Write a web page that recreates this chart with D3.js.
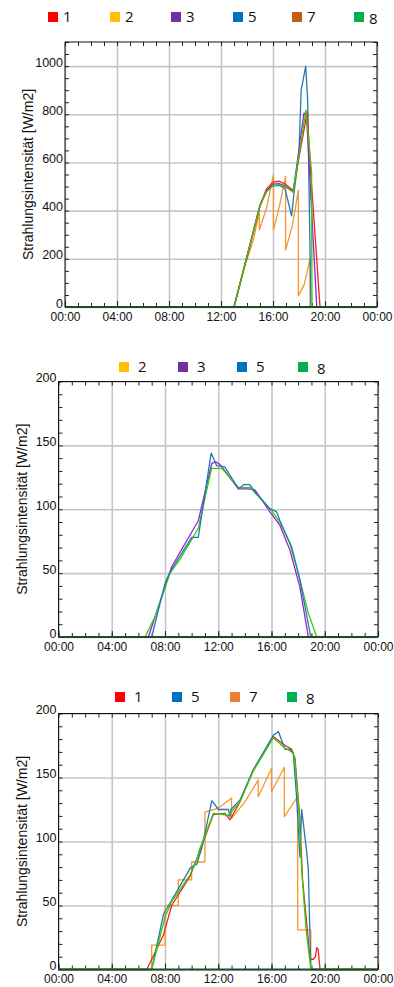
<!DOCTYPE html>
<html>
<head>
<meta charset="utf-8">
<script src="https://cdn.jsdelivr.net/npm/d3@7"></script>
<style>
  body { margin: 0; background: #fff; }
  svg { display: block; }
</style>
</head>
<body>
<svg id="chart" width="394" height="987"></svg>
<script>

// tick labels (shared by all three charts)
const xTickLabels = ["00:00", "04:00", "08:00", "12:00", "16:00", "20:00", "00:00"];
const yLabelText = "Strahlungsintensität [W/m2]";

// chart 1 : time, W/m2
const p1Series1 = [["00:00",0],["13:00",0],["14:00",205],["15:00",420],["15:30",490],["16:00",518],["16:30",522],["17:00",508],["17:33",484],["18:00",620],["18:38",810],["18:54",560],["19:37",0],["24:00",0]];
const p1Series2 = [["00:00",0],["24:00",0]];
const p1Series3 = [["00:00",0],["13:00",0],["14:00",208],["15:00",420],["15:30",482],["16:00",510],["16:30",512],["17:00",500],["17:33",478],["18:23",805],["18:35",790],["19:22",0],["24:00",0]];
const p1Series5 = [["00:00",0],["13:00",0],["14:00",212],["15:00",425],["15:30",480],["16:00",503],["16:30",505],["16:55",492],["17:26",378],["17:36",465],["18:00",640],["18:10",900],["18:31",1000],["18:40",860],["18:55",0],["24:00",0]];
const p1Series7 = [["00:00",0],["13:00",0],["13:58",205],["13:58",192],["14:30",280],["14:57",395],["14:57",319],["15:30",410],["16:02",548],["16:02",319],["16:30",420],["16:58",543],["16:58",236],["17:30",340],["17:57",485],["17:57",46],["18:25",95],["18:51",202],["18:51",0],["24:00",0]];
const p1Series8 = [["00:00",0],["13:00",0],["14:00",210],["15:00",420],["15:30",478],["16:00",505],["16:30",508],["17:00",497],["17:33",476],["18:32",817],["18:58",560],["19:00",0],["24:00",0]];

// chart 2
const p2Series2 = [["00:00",0],["24:00",0]];
const p2Series3 = [["00:00",0],["06:45",0],["08:30",55],["10:30",91],["11:31",136],["11:50",137],["12:08",135],["13:31",116],["14:16",116],["14:46",115],["15:53",98],["16:38",87.5],["17:23",68],["18:08",39],["18:46",0],["24:00",0]];
const p2Series5 = [["00:00",0],["07:00",0],["08:00",42],["08:23",51],["10:00",78],["10:30",78],["11:28",144],["11:53",134],["12:08",134],["12:30",133],["13:31",116],["13:58",119.5],["14:23",119],["14:46",113.5],["15:53",100.5],["16:23",98],["16:38",91],["17:31",70.5],["18:08",44.5],["18:57",0],["24:00",0]];
const p2Series8 = [["00:00",0],["06:30",0],["07:15",16],["08:23",50],["09:08",61],["10:30",85],["11:30",132],["12:16",132],["13:31",117],["14:23",117],["15:53",100.5],["16:38",90],["17:23",73],["18:01",50],["18:46",18.5],["19:24",0],["24:00",0]];

// chart 3
const p3Series1 = [["00:00",0],["06:38",0],["07:53",27],["08:30",50],["09:53",73],["10:38",93],["11:38",121],["12:30",122],["12:53",117],["13:38",131],["14:38",156],["16:08",182],["16:53",176],["17:31",172],["17:46",165],["18:08",117],["18:20",70],["18:54",8],["19:09",8],["19:18",10],["19:24",17],["19:30",16],["19:39",0],["24:00",0]];
const p3Series5 = [["00:00",0],["07:00",0],["07:53",43],["09:53",79],["10:16",82],["10:23",82],["10:46",95],["11:31",132],["12:01",125],["12:46",125],["12:53",119.5],["12:57",125],["13:38",132.5],["14:38",156],["16:08",183],["16:31",186],["17:01",172],["17:23",172],["17:38",169],["17:53",135],["18:08",88],["18:16",125],["18:38",93],["18:46",78],["18:57",0],["24:00",0]];
const p3Series7 = [["00:00",0],["07:00",0],["07:00",19],["08:00",19],["08:00",50],["09:00",50],["09:00",70],["10:00",70],["10:00",84],["11:00",84],["11:00",123],["12:00",126],["13:00",134],["13:00",118],["14:00",131],["15:00",148],["15:00",135],["16:00",157],["16:00",139],["16:58",158],["16:58",119.5],["17:50",133],["17:58",133],["17:58",31],["18:57",31],["18:57",0],["24:00",0]];
const p3Series8 = [["00:00",0],["07:00",0],["08:00",41],["08:30",53],["09:53",74],["10:23",86],["10:38",95],["11:38",122],["12:46",120.5],["13:38",131],["14:38",155],["16:08",181],["16:53",174],["17:38",169],["17:46",161],["18:01",130],["18:16",78],["18:36",31],["18:54",5],["18:57",0],["24:00",0]];

// legend / line colours
const legendColors = {"1": "#ff0000", "2": "#ffc000", "3": "#7030a0", "5": "#0070c0", "7": "#c55a11", "8": "#00b050"};
const lineColors = {"1": "#f0222a", "2": "#ffc000", "3": "#9a1fd6", "5": "#2478b4", "7": "#f7962e", "8": "#36cc0a"};

const toHours = t => {
    const parts = t.split(":").map(Number);
    return parts[0] + parts[1] / 60;
}

const svg = d3.select("#chart");

const panels = [
    {
        left: 65, right: 377, top: 42, bottom: 307,
        yMax: 1100, yMajor: 200, yMinor: 50, titleX: 33,
        legendY: 12, legendTextDx: 15,
        legend: [["1", 48], ["2", 110], ["3", 171], ["5", 233], ["7", 292], ["8", 354]],
        series: [["2", p1Series2], ["7", p1Series7], ["5", p1Series5], ["3", p1Series3], ["1", p1Series1], ["8", p1Series8]]
    },
    {
        left: 58.5, right: 378, top: 381.5, bottom: 637,
        yMax: 200, yMajor: 50, yMinor: 10, titleX: 27,
        legendY: 362, legendTextDx: 19,
        legend: [["2", 119], ["3", 178], ["5", 237], ["8", 298]],
        series: [["2", p2Series2], ["3", p2Series3], ["8", p2Series8], ["5", p2Series5]]
    },
    {
        left: 58.5, right: 378, top: 713.5, bottom: 969.5,
        yMax: 200, yMajor: 50, yMinor: 10, titleX: 27,
        legendY: 692, legendTextDx: 19,
        legend: [["1", 115], ["5", 172], ["7", 230], ["8", 287]],
        legendOverride: {"7": "#ed7d31"},
        series: [["7", p3Series7], ["1", p3Series1], ["5", p3Series5], ["8", p3Series8]]
    }
];

const drawPanel = p => {

    const g = svg.append("g");

    const x = d3.scaleLinear().domain([0, 24]).range([p.left, p.right]);
    const y = d3.scaleLinear().domain([0, p.yMax]).range([p.bottom, p.top]);

    const majorY = d3.range(0, p.yMax + 1, p.yMajor);
    const minorY = d3.range(0, p.yMax + 0.001, p.yMinor);
    const majorX = d3.range(0, 25, 4);
    const minorX = d3.range(0, 25, 1);

    // grid
    g.append("g")
        .attr("transform", `translate(0,${p.bottom})`)
        .call(d3.axisBottom(x).tickValues(majorX).tickSize(-(p.bottom - p.top)).tickFormat(""))
        .call(a => a.select(".domain").remove())
        .selectAll("line").attr("stroke", "#c6c6c6").attr("stroke-width", 1.6);

    g.append("g")
        .attr("transform", `translate(${p.left},0)`)
        .call(d3.axisLeft(y).tickValues(majorY).tickSize(-(p.right - p.left)).tickFormat(""))
        .call(a => a.select(".domain").remove())
        .selectAll("line").attr("stroke", "#c6c6c6").attr("stroke-width", 1.6);

    // inward minor ticks on all four sides
    g.append("g")
        .attr("transform", `translate(0,${p.top})`)
        .call(d3.axisTop(x).tickValues(minorX).tickSize(-4).tickFormat(""))
        .call(a => a.select(".domain").remove());

    g.append("g")
        .attr("transform", `translate(0,${p.bottom})`)
        .call(d3.axisBottom(x).tickValues(minorX).tickSize(-4).tickFormat(""))
        .call(a => a.select(".domain").remove());

    g.append("g")
        .attr("transform", `translate(0,${p.bottom})`)
        .call(d3.axisBottom(x).tickValues(majorX).tickSize(-6).tickFormat(""))
        .call(a => a.select(".domain").remove());

    g.append("g")
        .attr("transform", `translate(${p.left},0)`)
        .call(d3.axisLeft(y).tickValues(minorY).tickSize(-4).tickFormat(""))
        .call(a => a.select(".domain").remove());

    g.append("g")
        .attr("transform", `translate(${p.right},0)`)
        .call(d3.axisRight(y).tickValues(minorY).tickSize(-4).tickFormat(""))
        .call(a => a.select(".domain").remove());

    g.selectAll(".tick line:not([stroke='#c6c6c6'])").attr("stroke", "#222");

    // series lines
    const line = d3.line()
        .x(d => x(toHours(d[0])))
        .y(d => y(d[1]));

    p.series.forEach(s => {
        g.append("path")
            .datum(s[1])
            .attr("fill", "none")
            .attr("stroke", lineColors[s[0]])
            .attr("stroke-width", 1.3)
            .attr("stroke-linejoin", "round")
            .attr("d", line);
    });

    // frame
    g.append("rect")
        .attr("x", p.left).attr("y", p.top)
        .attr("width", p.right - p.left).attr("height", p.bottom - p.top)
        .attr("fill", "none").attr("stroke", "#111").attr("stroke-width", 1);

    g.append("line")
        .attr("x1", p.left).attr("x2", p.right)
        .attr("y1", p.bottom).attr("y2", p.bottom)
        .attr("stroke", "#1f4a28").attr("stroke-width", 2);

    // tick labels
    g.append("g")
        .attr("transform", `translate(0,${p.bottom})`)
        .call(d3.axisBottom(x).tickValues(majorX).tickSize(0).tickPadding(5).tickFormat((d, i) => xTickLabels[i]))
        .call(a => a.select(".domain").remove())
        .selectAll("text")
        .attr("font-family", "Liberation Sans, Arial, sans-serif")
        .attr("font-size", 12)
        .attr("fill", "#111");

    g.append("g")
        .attr("transform", `translate(${p.left},-4)`)
        .call(d3.axisLeft(y).tickValues(majorY).tickSize(0).tickPadding(2).tickFormat(d3.format("d")))
        .call(a => a.select(".domain").remove())
        .selectAll("text")
        .attr("font-family", "Liberation Sans, Arial, sans-serif")
        .attr("font-size", 12.5)
        .attr("fill", "#111");

    // y title
    g.append("text")
        .attr("transform", `translate(${p.titleX},${(p.top + p.bottom) / 2}) rotate(-90)`)
        .attr("text-anchor", "middle")
        .attr("font-family", "Liberation Sans, Arial, sans-serif")
        .attr("font-size", 14)
        .attr("fill", "#111")
        .text(yLabelText);

    // legend
    const legend = g.append("g");
    p.legend.forEach(l => {
        const colour = (p.legendOverride && p.legendOverride[l[0]]) || legendColors[l[0]];
        legend.append("rect")
            .attr("x", l[1]).attr("y", p.legendY)
            .attr("width", 10).attr("height", 10)
            .attr("fill", colour);
        legend.append("text")
            .attr("x", l[1] + p.legendTextDx)
            .attr("y", p.legendY + 10 + (l[0] === "8" ? 2 : 0))
            .attr("font-family", "Open Sans, sans-serif")
            .attr("font-size", 15)
            .attr("fill", "#111")
            .text(l[0]);
    });
}

panels.forEach(drawPanel);

</script>
</body>
</html>
